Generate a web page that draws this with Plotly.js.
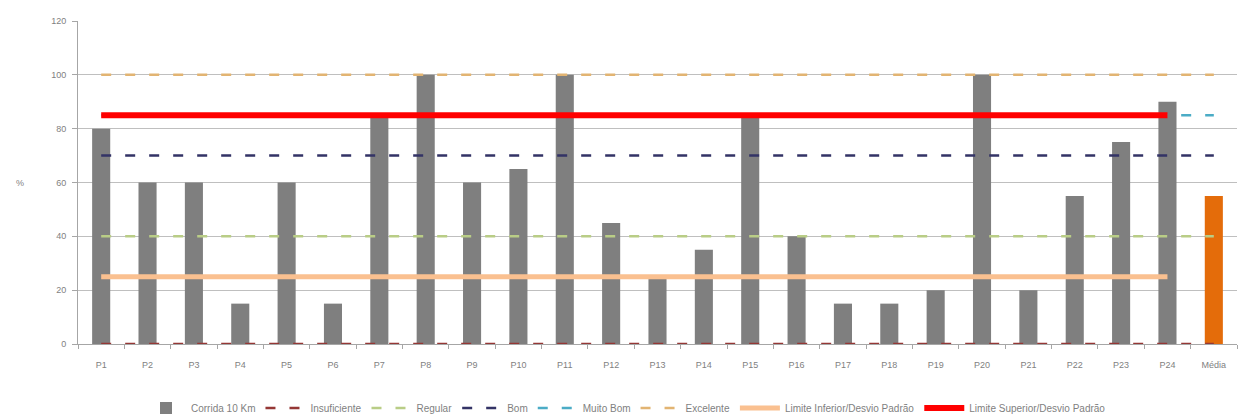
<!DOCTYPE html>
<html>
<head>
<meta charset="utf-8">
<script src="https://cdn.plot.ly/plotly-3.0.1.min.js"></script>
<style>body{margin:0;background:#fff;}#chart{width:1252px;height:419px;}</style>
</head>
<body>
<div id="chart"></div>
<script>
const categories = ["P1","P2","P3","P4","P5","P6","P7","P8","P9","P10","P11","P12","P13","P14","P15","P16","P17","P18","P19","P20","P21","P22","P23","P24","Média"];
const corrida = [80,60,60,15,60,15,85,100,60,65,100,45,25,35,85,40,15,15,20,100,20,55,75,90,55];
const insuficiente = 0;
const regular = 40;
const bom = 70;
const muitoBom = 85;
const excelente = 100;
const limiteInferior = 25;
const limiteSuperior = 85;
const participantes = categories.slice(0, 24);

const barColors = categories.map(c => c === "Média" ? "#E46C0A" : "#7F7F7F");
const level = v => categories.map(() => v);
const limit = v => participantes.map(() => v);
const dashPattern = "10px,14px";

const traces = [
  {type:"bar", name:"Corrida 10 Km", x:categories, y:corrida, marker:{color:barColors}, width:0.39},
  {type:"scatter", mode:"lines", name:"Insuficiente", x:categories, y:level(insuficiente), line:{color:"#953735", width:2.5, dash:dashPattern}},
  {type:"scatter", mode:"lines", name:"Regular", x:categories, y:level(regular), line:{color:"#B9CD86", width:2.5, dash:dashPattern}},
  {type:"scatter", mode:"lines", name:"Bom", x:categories, y:level(bom), line:{color:"#333366", width:2.5, dash:dashPattern}},
  {type:"scatter", mode:"lines", name:"Muito Bom", x:categories, y:level(muitoBom), line:{color:"#4BACC6", width:2.5, dash:dashPattern}},
  {type:"scatter", mode:"lines", name:"Excelente", x:categories, y:level(excelente), line:{color:"#E2B472", width:2.5, dash:dashPattern}},
  {type:"scatter", mode:"lines", name:"Limite Inferior/Desvio Padrão", x:participantes, y:limit(limiteInferior), line:{color:"#FAC090", width:5}},
  {type:"scatter", mode:"lines", name:"Limite Superior/Desvio Padrão", x:participantes, y:limit(limiteSuperior), line:{color:"#FF0000", width:6}}
];

const layout = {
  width:1252, height:419,
  margin:{l:78, r:15, t:21, b:75, autoexpand:false},
  paper_bgcolor:"#fff", plot_bgcolor:"#fff",
  font:{family:"Liberation Sans, Arial, sans-serif", size:9, color:"#7F7F7F"},
  showlegend:true,
  legend:{orientation:"h", x:0.5, xanchor:"center", xref:"container", yref:"container", y:0.026, yanchor:"middle", font:{size:10, color:"#7F7F7F"}, itemwidth:40, tracegroupgap:0},
  xaxis:{type:"category", showline:true, linecolor:"#A6A6A6", ticks:"outside", tickson:"boundaries", ticklen:4, tickcolor:"#A6A6A6", showgrid:false, ticklabelstandoff:12, tickfont:{size:9, color:"#7F7F7F"}},
  yaxis:{range:[0,120], dtick:20, showline:true, linecolor:"#A6A6A6", ticks:"outside", ticklen:5, tickcolor:"#A6A6A6", gridcolor:"#BFBFBF", gridwidth:1, zeroline:false, ticklabelstandoff:4, tickfont:{size:9, color:"#7F7F7F"}},
  annotations:[{text:"%", xref:"paper", yref:"paper", x:-0.05, xanchor:"center", y:0.5, showarrow:false, font:{size:9, color:"#7F7F7F"}}]
};

Plotly.newPlot("chart", traces, layout, {displayModeBar:false, staticPlot:true});
</script>
</body>
</html>
